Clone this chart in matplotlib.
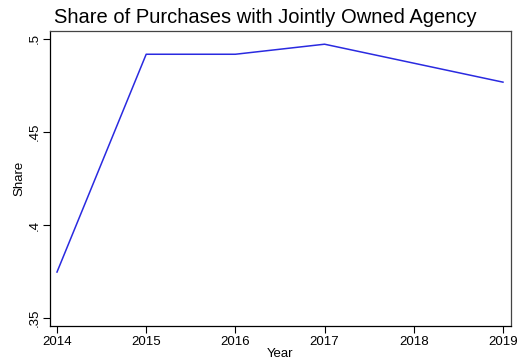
import matplotlib
matplotlib.use('Agg')
import matplotlib.pyplot as plt

plt.rcParams['font.family'] = ['Liberation Sans', 'DejaVu Sans']

years = [2014, 2015, 2016, 2017, 2018, 2019]
share = [0.3747, 0.4918, 0.4918, 0.4972, 0.4870, 0.4768]
yticks = [0.35, 0.40, 0.45, 0.50]
ytick_labels = ['.35', '.4', '.45', '.5']

fig = plt.figure(figsize=(5.17, 3.62), dpi=100)
ax = fig.add_axes([49.5 / 517, 1 - 326 / 362, (511 - 49.5) / 517, (326 - 31) / 362])

ax.plot(years, share, color='#2a2ae0', linewidth=1.1)

ax.set_xlim(2013.916, 2019.09)
ax.set_ylim(0.3457, 0.5043)
ax.set_xticks(years)
ax.set_xticklabels([str(y) for y in years], fontsize=9.5)
ax.set_yticks(yticks)
ax.set_yticklabels(ytick_labels, fontsize=9.5, rotation=90, va='center')

ax.tick_params(axis='both', direction='out', length=5, width=0.8, color='black')
ax.tick_params(axis='x', pad=2)
ax.tick_params(axis='y', pad=1.5)
for side in ax.spines.values():
    side.set_linewidth(0.9)
    side.set_color('black')
ax.spines['top'].set_color('#444444')
ax.spines['right'].set_color('#444444')

ax.set_xlabel('Year', fontsize=9.5, labelpad=0)
ax.set_ylabel('Share', fontsize=9.5, labelpad=2)
# title sits a bit left of the axes centre in the original
ax.set_title('Share of Purchases with Jointly Owned Agency', fontsize=14.5, pad=6, x=0.467)

fig.savefig('out.png', dpi=100)
